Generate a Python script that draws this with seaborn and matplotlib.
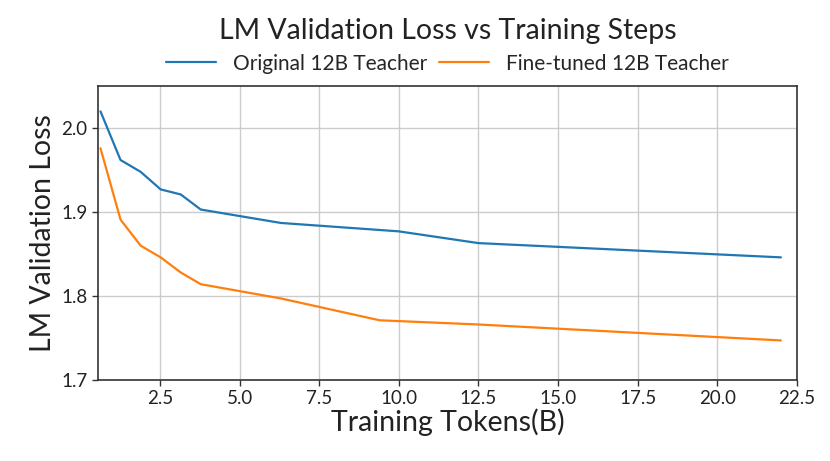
import matplotlib
matplotlib.use("Agg")
import matplotlib.pyplot as plt
import pandas as pd
import seaborn as sns

tokens_orig = [0.63, 1.26, 1.89, 2.52, 3.15, 3.78, 6.3, 10.0, 12.5, 22.0]
loss_orig = [2.020, 1.962, 1.948, 1.927, 1.921, 1.903, 1.887, 1.877, 1.863, 1.846]
tokens_ft = [0.63, 1.26, 1.89, 2.52, 3.15, 3.78, 6.3, 9.4, 12.5, 22.0]
loss_ft = [1.976, 1.891, 1.860, 1.846, 1.828, 1.814, 1.797, 1.771, 1.766, 1.747]
labels = ["Original 12B Teacher", "Fine-tuned 12B Teacher"]

df = pd.concat([
    pd.DataFrame({"tokens": tokens_orig, "loss": loss_orig, "model": labels[0]}),
    pd.DataFrame({"tokens": tokens_ft, "loss": loss_ft, "model": labels[1]}),
])

sns.set_style("whitegrid")
plt.rcParams["font.family"] = ["Lato", "DejaVu Sans"]
plt.rcParams["axes.edgecolor"] = "#333333"

fig = plt.figure(figsize=(8.3, 4.61), dpi=100)
ax = fig.add_axes([0.118, 0.176, 0.842, 0.637])
sns.lineplot(data=df, x="tokens", y="loss", hue="model", palette=["#1f77b4", "#ff7f0e"],
             linewidth=1.6, ax=ax, sort=False)

ax.set_xlim(0.55, 22.5)
ax.set_ylim(1.7, 2.05)
ax.set_xticks([2.5, 5.0, 7.5, 10.0, 12.5, 15.0, 17.5, 20.0, 22.5])
ax.set_yticks([1.7, 1.8, 1.9, 2.0])
ax.tick_params(axis="both", labelsize=13.5, length=4, width=1, color="#333333",
               bottom=True, left=True, labelcolor="#222222")
ax.grid(color="#cccccc", linewidth=1)
for s in ax.spines.values():
    s.set_linewidth(1.2)

ax.set_xlabel("Training Tokens(B)", fontsize=20.5, color="#222222", labelpad=1)
ax.set_ylabel("LM Validation Loss", fontsize=20.5, color="#222222")
fig.suptitle("LM Validation Loss vs Training Steps", fontsize=20.5, color="#222222",
             x=0.539, y=0.962)
ax.legend(loc="lower center", bbox_to_anchor=(0.5, 1.0), ncol=2, frameon=False,
          fontsize=15, handlelength=2.4, columnspacing=0.6, borderaxespad=0.2)

fig.savefig("out.png", dpi=100)
